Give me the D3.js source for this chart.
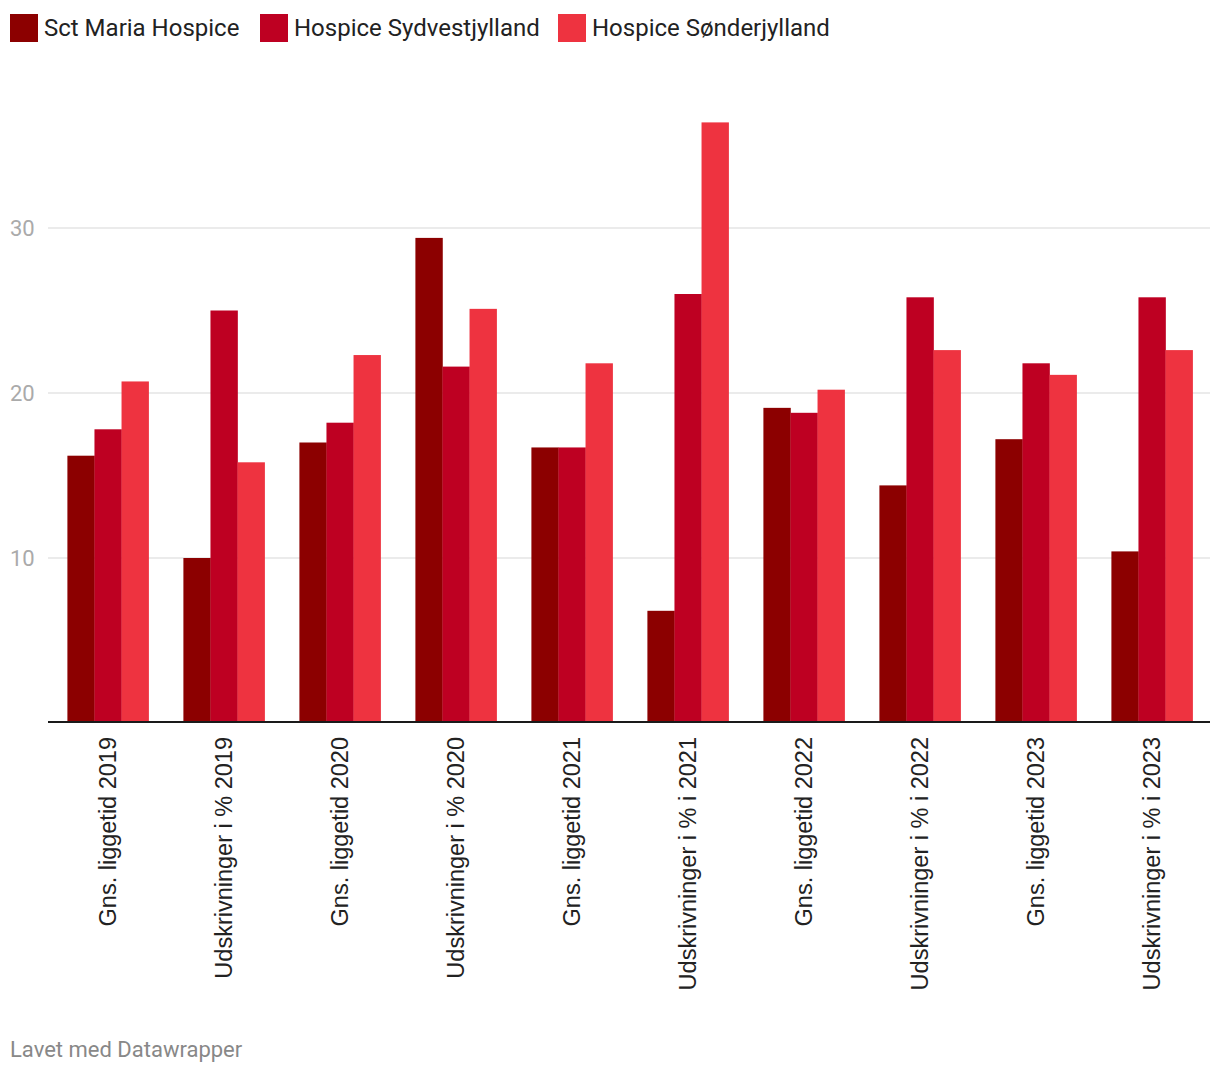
<!DOCTYPE html>
<html>
<head>
<meta charset="utf-8">
<script src="https://cdn.jsdelivr.net/npm/d3@7"></script>
<style>
  body { margin: 0; background: #fff; }
  svg { display: block; }
</style>
</head>
<body>
<div id="chart"></div>
<script>
const categories = [
  "Gns. liggetid 2019", "Udskrivninger i % 2019",
  "Gns. liggetid 2020", "Udskrivninger i % 2020",
  "Gns. liggetid 2021", "Udskrivninger i % i 2021",
  "Gns. liggetid 2022", "Udskrivninger i % i 2022",
  "Gns. liggetid 2023", "Udskrivninger i % i 2023"
];
const seriesNames = ["Sct Maria Hospice", "Hospice Sydvestjylland", "Hospice Sønderjylland"];
const sctMaria = [16.2, 10.0, 17.0, 29.4, 16.7, 6.8, 19.1, 14.4, 17.2, 10.4];
const sydvest = [17.8, 25.0, 18.2, 21.6, 16.7, 26.0, 18.8, 25.8, 21.8, 25.8];
const sonder = [20.7, 15.8, 22.3, 25.1, 21.8, 36.4, 20.2, 22.6, 21.1, 22.6];
const yTicks = [10, 20, 30];
const colors = ["#8c0000", "#be0022", "#ee3340"];

const width = 1220, height = 1072;
const svg = d3.select("#chart").append("svg")
  .attr("width", width).attr("height", height);

// legend
const legend = svg.append("g");
const legendX = [10, 260, 558];
seriesNames.forEach((name, i) => {
  legend.append("rect")
    .attr("x", legendX[i]).attr("y", 14)
    .attr("width", 28).attr("height", 28)
    .attr("fill", colors[i]);
  legend.append("text")
    .attr("x", legendX[i] + 34).attr("y", 36)
    .attr("font-family", "Roboto")
    .attr("font-size", 24)
    .attr("fill", "#222")
    .text(name);
});

const x0 = d3.scaleBand().domain(categories).range([50, 1210])
  .paddingInner(0.3).paddingOuter(0.15);
const x1 = d3.scaleBand().domain(d3.range(3)).range([0, x0.bandwidth()]);
const y = d3.scaleLinear().domain([0, 30]).range([723, 228]);

// gridlines
svg.append("g").selectAll("line").data(yTicks).join("line")
  .attr("x1", 48).attr("x2", 1210)
  .attr("y1", d => y(d)).attr("y2", d => y(d))
  .attr("stroke", "#e4e4e4").attr("stroke-width", 1.5);

svg.append("g").selectAll("text").data(yTicks).join("text")
  .attr("x", 10).attr("y", d => y(d) + 8)
  .attr("font-family", "Roboto").attr("font-size", 22)
  .attr("fill", "#aaa")
  .text(d => d);

// bars
const series = [sctMaria, sydvest, sonder];
const groups = svg.append("g").selectAll("g").data(categories).join("g")
  .attr("transform", d => `translate(${x0(d)},0)`);
groups.selectAll("rect")
  .data((d, i) => series.map((s, j) => ({ j, v: s[i] })))
  .join("rect")
  .attr("x", d => x1(d.j))
  .attr("width", x1.bandwidth() + 0.3)
  .attr("y", d => y(d.v))
  .attr("height", d => y(0) - y(d.v))
  .attr("fill", d => colors[d.j]);

// baseline
svg.append("line")
  .attr("x1", 48).attr("x2", 1210)
  .attr("y1", 722).attr("y2", 722)
  .attr("stroke", "#1a1a1a").attr("stroke-width", 2);

// x labels
svg.append("g").selectAll("text").data(categories).join("text")
  .attr("transform", d => `translate(${x0(d) + x0.bandwidth() / 2 + 8},737) rotate(-90)`)
  .attr("text-anchor", "end")
  .attr("font-family", "Liberation Sans, Arial")
  .attr("font-size", 23.5)
  .attr("fill", "#222")
  .text(d => d);

svg.append("text")
  .attr("x", 10).attr("y", 1057)
  .attr("font-family", "Roboto").attr("font-size", 22)
  .attr("fill", "#888")
  .text("Lavet med Datawrapper");
</script>
</body>
</html>
